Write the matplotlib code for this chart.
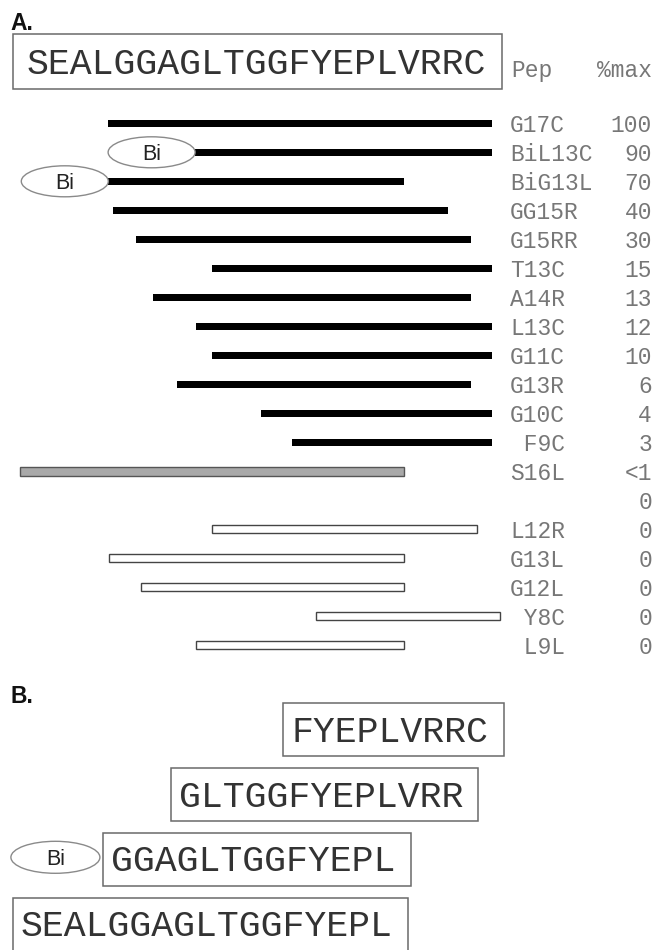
import numpy as np
import matplotlib.pyplot as plt
from matplotlib.patches import Rectangle, Ellipse

# --- data ---
sequence = "SEALGGAGLTGGFYEPLVRRC"

peptides = ["G17C", "BiL13C", "BiG13L", "GG15R", "G15RR", "T13C", "A14R", "L13C",
            "G11C", "G13R", "G10C", "F9C", "S16L", "", "L12R", "G13L", "G12L",
            "Y8C", "L9L"]
pct_max = ["100", "90", "70", "40", "30", "15", "13", "12", "10", "6", "4", "3",
           "<1", "0", "0", "0", "0", "0", "0"]
# start / end of each bar in residue units (0 = N-terminal edge of S1)
starts = [4.0, 7.85, 4.0, 4.2, 5.25, 8.6, 6.0, 7.9, 8.6, 7.05, 10.75, 12.15,
          0.1, np.nan, 8.6, 4.05, 5.45, 13.2, 7.9]
ends = [21.0, 21.0, 17.1, 19.05, 20.1, 21.0, 20.1, 21.0, 21.0, 20.1, 21.0, 21.0,
        17.1, np.nan, 20.35, 17.1, 17.1, 21.35, 17.1]
kind = ["solid"] * 12 + ["grey", "none"] + ["open"] * 5
biotin = [False, True, True] + [False] * 16

pep_b = ["FYEPLVRRC", "GLTGGFYEPLVRR", "GGAGLTGGFYEPL", "SEALGGAGLTGGFYEPL"]
start_b = [13, 8, 5, 1]
biotin_b = [False, False, True, False]

# --- layout (pixel based, figure is 654 x 950) ---
X0, RW = 18.1, 22.55      # px of residue edge 0, px per residue
Y0, RH = 123.3, 29.0      # px of first row, px per row


def px(x):
    return (x - X0) / RW


def py(y):
    return (y - Y0) / RH


MONO = "Liberation Mono"
SANS = "Liberation Sans"
lab_col = "#777777"
seq_col = "#333333"
box_col = "#6a6a6a"
seq_size = 26.3
lab_size = 16.5

fig = plt.figure(figsize=(6.54, 9.5), dpi=100)
ax = fig.add_axes([0, 0, 1, 1])
ax.set_xlim(px(0), px(654))
ax.set_ylim(py(950), py(0))
ax.axis("off")

# panel labels
ax.text(px(10), py(12), "A.", family=SANS, weight="bold", size=16.5,
        ha="left", va="top", color="#111111")
ax.text(px(10), py(685), "B.", family=SANS, weight="bold", size=16.5,
        ha="left", va="top", color="#111111")

# full sequence box
ax.add_patch(Rectangle((px(12.7), py(34.3)), (501.7 - 12.7) / RW, (89.3 - 34.3) / RH,
                       fill=False, ec=box_col, lw=1.1))
ax.text(px(26.7), py(73.5), sequence, family=MONO, size=seq_size,
        ha="left", va="baseline", color=seq_col)

ax.text(px(511), py(77), "Pep", family=MONO, size=lab_size, ha="left",
        va="baseline", color=lab_col)
ax.text(px(652), py(77), "%max", family=MONO, size=lab_size, ha="right",
        va="baseline", color=lab_col)

rows = np.arange(len(peptides))
st = np.array(starts)
en = np.array(ends)
kd = np.array(kind)

m = kd == "solid"
ax.barh(rows[m], en[m] - st[m], left=st[m], height=6.5 / RH, color="black")
m = kd == "grey"
ax.barh(rows[m], en[m] - st[m], left=st[m], height=9 / RH, color="#a9a9a9",
        edgecolor="#555555", lw=1.0)
m = kd == "open"
ax.barh(rows[m], en[m] - st[m], left=st[m], height=8 / RH, color="white",
        edgecolor="#444444", lw=1.0)

ew, eh = 87 / RW, 31 / RH
for r, s, b in zip(rows, starts, biotin):
    if b:
        ax.add_patch(Ellipse((s - ew / 2, r), ew, eh, fill=False, ec="#8a8a8a", lw=1.0))
        ax.text(s - ew / 2, r + 8 / RH, "Bi", family=SANS, size=15.5,
                ha="center", va="baseline", color="#222222")

for r, lab, val in zip(rows, peptides, pct_max):
    ax.text(px(510), r + 9 / RH, lab.rjust(4), family=MONO, size=lab_size,
            ha="left", va="baseline", color=lab_col)
    ax.text(px(652), r + 9 / RH, val, family=MONO, size=lab_size,
            ha="right", va="baseline", color=lab_col)

# panel B
char_w = seq_size / 72 * 100 * 0.6
for i, (pep, s, b) in enumerate(zip(pep_b, start_b, biotin_b)):
    cy = 729.7 + 64.8 * i
    tx = 20.7 + RW * (s - 1)
    left = tx - 8
    right = tx + len(pep) * char_w + 15
    ax.add_patch(Rectangle((px(left), py(cy - 26.5)), (right - left) / RW, 53 / RH,
                           fill=False, ec=box_col, lw=1.1))
    ax.text(px(tx), py(cy + 12), pep, family=MONO, size=seq_size,
            ha="left", va="baseline", color=seq_col)
    if b:
        ecx = left - 3 - 44.5
        ax.add_patch(Ellipse((px(ecx), py(cy - 2)), 89 / RW, 32 / RH, fill=False,
                             ec="#8a8a8a", lw=1.0))
        ax.text(px(ecx), py(cy + 6), "Bi", family=SANS, size=15.5,
                ha="center", va="baseline", color="#222222")

fig.savefig("out.png", dpi=100)
